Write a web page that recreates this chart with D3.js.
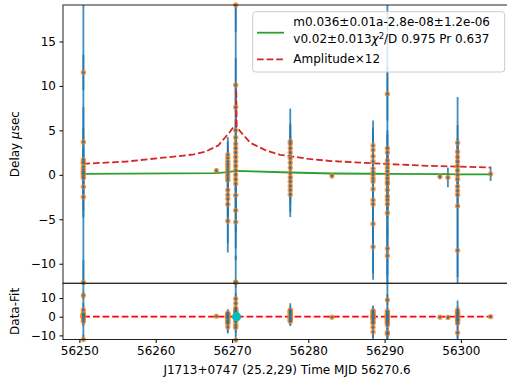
<html>
<head>
<script src="https://cdn.jsdelivr.net/npm/d3@7"></script>
<style>
  body { margin: 0; background: white; }
  text { font-family: "DejaVu Sans", sans-serif; }
</style>
</head>
<body>
<div id="container"></div>
<script>
// ---- data ----
const clusterMjd = [56250.52, 56267.96, 56269.45, 56270.49, 56277.64, 56283.1,
                    56288.49, 56290.37, 56297.26, 56298.3, 56299.57, 56303.9];
// green fit line value at each epoch
const clusterFit = [0.1, 0.2, 0.3, 0.45, 0.26, 0.15, 0.12, 0.1, 0.08, 0.07, 0.06, 0.05];
const clusterDelay = [
  [11.5, 3.7, 1.7, 1.35, 0.9, 0.6, 0.35, 0.15, -0.1, -0.35, -1.35, -2.5, -12.1, 0.2, 1.4],
  [0.45],
  [2.25, 1.9, 1.5, 1.2, 0.9, 0.6, 0.3, 0.0, -0.3, -0.6, -1.7, -2.25, -2.7, -3.3, -5.2],
  [19.1, 10.1, 7.6, 5.0, 4.2, 3.5, 3.0, 2.5, 2.0, 1.5, 1.0, 0.5, 0.0, -0.5, -1.0, -2.3, -4.0, -5.3, -12.1],
  [3.75, 3.5, 3.0, 2.5, 1.9, 1.35, 0.8, 0.2, -0.3, -0.75, -1.25, -1.7, -2.2],
  [-0.1],
  [3.3, 2.8, 2.1, 1.5, 0.7, 0.3, 0.0, -0.4, -0.75, -1.6, -2.85, -3.3, -5.5, -8.1],
  [9.1, 3.0, 2.5, 1.6, 1.2, 0.8, 0.4, 0.0, -0.4, -0.8, -1.0, -1.7, -2.4, -2.8, -3.3, -4.3, -8.3, -9.1],
  [-0.2],
  [-0.3],
  [3.6, 2.6, 2.0, 1.5, 1.0, 0.5, 0.0, -0.5, -1.3, -1.8, -2.25, -3.5, -8.5],
  [0.1]
];
const clusterErr = [
  [2.0, 1.5, 1.2, 1.0, 1.0, 0.8, 0.8, 0.8, 0.8, 0.8, 1.2, 1.5, 2.5, 32, 6.2],
  [0.3],
  [1.5, 1.2, 1, 1, 1, 1, 1, 1, 1, 1, 1.5, 6.5, 2, 2, 2.5],
  [3, 3, 2.5, 14.6, 2, 2, 1.5, 1.5, 1.5, 1.5, 1.2, 1.2, 1.2, 1.2, 1.5, 2, 2.5, 3, 3],
  [2, 2, 1.5, 1.5, 1.2, 6.1, 1, 1, 1, 1.2, 1.5, 1.5, 2],
  [0.3],
  [2, 2, 1.5, 1.5, 1.2, 1, 1, 1, 1.2, 1.5, 8.95, 2, 2.5, 3],
  [3, 2, 2, 1.5, 1.5, 1.2, 1.2, 32, 1.2, 1.2, 1.5, 1.5, 2, 2, 2, 2.5, 3, 3],
  [0.3],
  [1.1],
  [2, 1.5, 1.5, 1.2, 1.2, 1, 1, 1, 1.2, 1.5, 11, 2, 3],
  [0.8]
];
// Amplitude x12 curve
const ampMjd = [56250.52, 56253, 56256.2, 56260.6, 56263, 56265, 56266.5, 56268.2, 56269.1,
                56269.8, 56270.2, 56270.5, 56270.56, 56270.62, 56271.06, 56272.4, 56274.3,
                56276.3, 56277.6, 56280, 56283, 56288.5, 56292, 56296, 56299.6, 56303.9];
const ampVal = [1.24, 1.35, 1.5, 1.9, 2.1, 2.3, 2.6, 3.3, 4.2,
                4.9, 5.4, 5.6, 9.6, 5.5, 4.9, 3.6, 2.8,
                2.25, 2.1, 1.8, 1.55, 1.3, 1.15, 1.0, 0.93, 0.82];
const refMjd = 56270.6;
const xTicks = [56250, 56260, 56270, 56280, 56290, 56300];
const yTicksMain = [-10, -5, 0, 5, 10, 15];
const yTicksRes = [-10, 0, 10];
const legendLines = ["m0.036±0.01a-2.8e-08±1.2e-06", "v0.02±0.013", "/D 0.975 Pr 0.637", "Amplitude×12"];
const xLabel = "J1713+0747 (25.2,29) Time MJD 56270.6";

// ---- layout ----
const width = 507, height = 385;
const left = 63, right = 511, mainTop = 5, mainBottom = 283.3, resBottom = 339.5;
const blue = "#1f77b4", orange = "#ff7f0e", green = "#2ca02c", red = "#d62728";

const points = [];
clusterMjd.forEach((m, i) => {
  clusterDelay[i].forEach((d, j) => {
    points.push({ mjd: m, delay: d, err: clusterErr[i][j], res: d - clusterFit[i] });
  });
});

const x = d3.scaleLinear().domain([56247.85, 56306.57]).range([left, right]);
const yMain = d3.scaleLinear().domain([-12.2, 19.1]).range([mainBottom, mainTop]);
const yRes = d3.scaleLinear().domain([-12.2, 17.9]).range([resBottom, mainBottom]);

const svg = d3.create("svg")
  .attr("width", width)
  .attr("height", height)
  .style("background", "white");

const defs = svg.append("defs");
defs.append("clipPath").attr("id", "clipMain")
  .append("rect").attr("x", left).attr("y", mainTop)
  .attr("width", right - left).attr("height", mainBottom - mainTop);
defs.append("clipPath").attr("id", "clipRes")
  .append("rect").attr("x", left).attr("y", mainBottom)
  .attr("width", right - left).attr("height", resBottom - mainBottom);

function drawPanel(y, valueKey, clipId) {
  const g = svg.append("g");
  const lines = g.append("g").attr("clip-path", `url(#${clipId})`);
  lines.selectAll("line.err")
    .data(points)
    .join("line")
    .attr("class", "err")
    .attr("x1", d => x(d.mjd)).attr("x2", d => x(d.mjd))
    .attr("y1", d => y(d[valueKey] - d.err))
    .attr("y2", d => y(d[valueKey] + d.err))
    .attr("stroke", blue)
    .attr("stroke-opacity", 0.85)
    .attr("stroke-width", 1.8);
  return { g, lines };
}

// main panel
const main = drawPanel(yMain, "delay", "clipMain");
main.lines.append("path")
  .datum(clusterMjd.map((m, i) => [m, clusterFit[i]]))
  .attr("fill", "none")
  .attr("stroke", green)
  .attr("stroke-width", 1.8)
  .attr("d", d3.line().x(d => x(d[0])).y(d => yMain(d[1])));
main.lines.append("path")
  .datum(ampMjd.map((m, i) => [m, ampVal[i]]))
  .attr("fill", "none")
  .attr("stroke", red)
  .attr("stroke-width", 1.8)
  .attr("stroke-dasharray", "6.7,2.9")
  .attr("d", d3.line().x(d => x(d[0])).y(d => yMain(d[1])));

// residual panel
const res = drawPanel(yRes, "res", "clipRes");
res.lines.append("line")
  .attr("x1", x(clusterMjd[0])).attr("x2", x(clusterMjd[clusterMjd.length - 1]))
  .attr("y1", yRes(0)).attr("y2", yRes(0))
  .attr("stroke", "#ff0000")
  .attr("stroke-width", 1.8)
  .attr("stroke-dasharray", "6.7,2.9");

// markers
[[main.g, yMain, "delay"], [res.g, yRes, "res"]].forEach(([g, y, key]) => {
  g.append("g").selectAll("circle")
    .data(points)
    .join("circle")
    .attr("cx", d => x(d.mjd)).attr("cy", d => y(d[key]))
    .attr("r", 2.7)
    .attr("fill", orange)
    .attr("fill-opacity", 0.75);
  g.append("g").selectAll("circle")
    .data(points)
    .join("circle")
    .attr("cx", d => x(d.mjd)).attr("cy", d => y(d[key]))
    .attr("r", 1.3)
    .attr("fill", blue);
});
res.g.append("circle")
  .attr("cx", x(refMjd)).attr("cy", yRes(0))
  .attr("r", 4.6)
  .attr("fill", "#00bfbf");

// axes
const fmt = d3.format("d");
function styleAxis(sel) {
  sel.selectAll("text").style("font-size", "12px").attr("fill", "black");
  sel.selectAll("line").attr("stroke", "black").attr("stroke-width", 1);
  sel.select(".domain").remove();
}
svg.append("g")
  .attr("transform", `translate(${left},0)`)
  .call(d3.axisLeft(yMain).tickValues(yTicksMain).tickFormat(fmt).tickSize(3.5).tickPadding(3.5))
  .call(styleAxis);
svg.append("g")
  .attr("transform", `translate(${left},0)`)
  .call(d3.axisLeft(yRes).tickValues(yTicksRes).tickFormat(fmt).tickSize(3.5).tickPadding(3.5))
  .call(styleAxis);
svg.append("g")
  .attr("transform", `translate(0,${resBottom})`)
  .call(d3.axisBottom(x).tickValues(xTicks).tickFormat(d3.format("d")).tickSize(3.5).tickPadding(3.5))
  .call(styleAxis);

// spines
[[mainTop, mainBottom], [mainBottom, resBottom]].forEach(([t, b]) => {
  svg.append("rect")
    .attr("x", left).attr("y", t)
    .attr("width", right - left).attr("height", b - t)
    .attr("fill", "none")
    .attr("stroke", "#222")
    .attr("stroke-width", 1);
});

// axis labels
svg.append("text")
  .attr("transform", `translate(19,${(mainTop + mainBottom) / 2}) rotate(-90)`)
  .attr("text-anchor", "middle")
  .style("font-size", "12px")
  .call(t => {
    t.append("tspan").text("Delay ");
    t.append("tspan").style("font-style", "italic").text("μ");
    t.append("tspan").text("sec");
  });
svg.append("text")
  .attr("transform", `translate(19,${(mainBottom + resBottom) / 2}) rotate(-90)`)
  .attr("text-anchor", "middle")
  .style("font-size", "12px")
  .text("Data-Fit");
svg.append("text")
  .attr("x", (left + right) / 2)
  .attr("y", 374)
  .attr("text-anchor", "middle")
  .style("font-size", "12px")
  .text(xLabel);

// legend
const leg = svg.append("g");
leg.append("rect")
  .attr("x", 252.7).attr("y", 11.7)
  .attr("width", 252).attr("height", 60.3)
  .attr("rx", 3)
  .attr("fill", "white").attr("fill-opacity", 0.8)
  .attr("stroke", "#cccccc").attr("stroke-width", 1);
leg.append("line")
  .attr("x1", 257).attr("x2", 284).attr("y1", 32.7).attr("y2", 32.7)
  .attr("stroke", green).attr("stroke-width", 1.8);
leg.append("line")
  .attr("x1", 257).attr("x2", 284).attr("y1", 59.3).attr("y2", 59.3)
  .attr("stroke", red).attr("stroke-width", 1.8).attr("stroke-dasharray", "6.7,2.9");
leg.append("text").attr("x", 293.3).attr("y", 26).style("font-size", "12px").text(legendLines[0]);
leg.append("text").attr("x", 293.3).attr("y", 43.3).style("font-size", "12px")
  .call(t => {
    t.append("tspan").text(legendLines[1]);
    t.append("tspan").style("font-style", "italic").text("χ");
    t.append("tspan").attr("dy", -4.5).style("font-size", "8.5px").text("2");
    t.append("tspan").attr("dy", 4.5).text(legendLines[2]);
  });
leg.append("text").attr("x", 293.3).attr("y", 63.3).style("font-size", "12px").text(legendLines[3]);

document.getElementById("container").append(svg.node());
</script>
</body>
</html>
